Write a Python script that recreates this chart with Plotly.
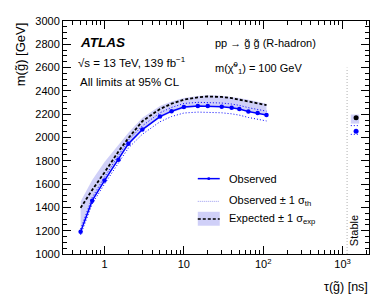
import plotly.graph_objects as go

# ---------------- data ----------------
tau = [0.5, 0.7, 1, 1.5, 2, 3, 5, 7, 10, 15, 20, 30, 40, 50, 65, 85, 110]
observed = [1190, 1458, 1630, 1809, 1947, 2068, 2180, 2226, 2261, 2270, 2270, 2264, 2255, 2244, 2224, 2211, 2194]
obs_th_up = [1215, 1485, 1660, 1840, 1978, 2100, 2212, 2258, 2292, 2302, 2302, 2296, 2287, 2276, 2256, 2243, 2226]
obs_th_dn = [1165, 1430, 1600, 1775, 1910, 2028, 2135, 2180, 2210, 2218, 2218, 2212, 2203, 2192, 2172, 2158, 2142]
expected = [1396, 1550, 1700, 1880, 1995, 2140, 2245, 2290, 2325, 2345, 2352, 2348, 2338, 2325, 2310, 2295, 2278]
exp_up = [1450, 1635, 1790, 1935, 2040, 2170, 2270, 2310, 2340, 2357, 2362, 2358, 2350, 2338, 2323, 2307, 2290]
exp_dn = [1220, 1460, 1640, 1800, 1930, 2060, 2170, 2215, 2250, 2265, 2268, 2265, 2257, 2247, 2230, 2215, 2198]

stable_tau = [1480]
stable_span = [1270, 1620]
stable_obs = [2054]
stable_obs_up = [2102]
stable_obs_dn = [2027]
stable_exp = [2169]
stable_exp_up = [2197]
stable_exp_dn = [2119]
stable_line_tau = 1140

y_ticks = list(range(1000, 3001, 200))
x_tickvals = [1, 10, 100, 1000]
x_ticktext = ["1", "10", "10<sup>2</sup>", "10<sup>3</sup>"]
x_minor = [m * 10 ** e for e in range(-1, 4) for m in range(2, 10)]
x_minor = [v for v in x_minor if 0.3 <= v <= 2100]

BLUE = "#0000ff"
BAND = "rgba(150,150,240,0.45)"
FONT = "Liberation Sans, Arial, sans-serif"

# ---------------- geometry (window pixels) ----------------
# the page body has an 8px default margin, so the figure is drawn offset by 8px
OFF = 8
WIN_W, WIN_H = 390, 303
W, H = WIN_W - 2 * OFF, WIN_H - 2 * OFF
L, R, T, B = 63, 369.5, 15, 254          # plot area in window pixels


def px(x):
    return (x - L) / (R - L)


def py(y):
    return (B - y) / (B - T)


fig = go.Figure()

# expected band
fig.add_trace(go.Scatter(x=tau, y=exp_up, mode="lines", line=dict(width=0),
                         hoverinfo="skip", showlegend=False))
fig.add_trace(go.Scatter(x=tau, y=exp_dn, mode="lines", line=dict(width=0),
                         fill="tonexty", fillcolor=BAND, showlegend=False))
# observed +- theory
fig.add_trace(go.Scatter(x=tau, y=obs_th_up, mode="lines",
                         line=dict(color=BLUE, width=1, dash="1px,2px"), showlegend=False))
fig.add_trace(go.Scatter(x=tau, y=obs_th_dn, mode="lines",
                         line=dict(color=BLUE, width=1, dash="1px,2px"), showlegend=False))
# expected
fig.add_trace(go.Scatter(x=tau, y=expected, mode="lines",
                         line=dict(color="black", width=1.8, dash="3px,2px"), showlegend=False))
# observed
fig.add_trace(go.Scatter(x=tau, y=observed, mode="lines+markers",
                         line=dict(color=BLUE, width=1.5),
                         marker=dict(color=BLUE, size=4.5), showlegend=False))

# stable points
fig.add_trace(go.Scatter(x=stable_span + stable_span[::-1],
                         y=[stable_exp_up[0]] * 2 + [stable_exp_dn[0]] * 2,
                         mode="lines", line=dict(width=0), fill="toself",
                         fillcolor=BAND, showlegend=False))
for yv in (stable_obs_up, stable_obs_dn):
    fig.add_trace(go.Scatter(x=stable_span, y=yv * 2, mode="lines",
                             line=dict(color=BLUE, width=1, dash="1px,2px"), showlegend=False))
fig.add_trace(go.Scatter(x=stable_tau, y=stable_exp, mode="markers",
                         marker=dict(color="black", size=5), showlegend=False))
fig.add_trace(go.Scatter(x=stable_tau, y=stable_obs, mode="markers",
                         marker=dict(color=BLUE, size=5), showlegend=False))

# vertical dotted separator for "Stable"
fig.add_shape(type="line", xref="x", yref="y", x0=stable_line_tau, x1=stable_line_tau,
              y0=1000, y1=2600, line=dict(color="#b0b0b0", width=1, dash="1px,2px"))

# ---------------- legend (manual) ----------------
lx0, lx1 = px(198), px(220)
fig.add_shape(type="line", xref="paper", yref="paper", x0=lx0, x1=lx1,
              y0=py(176.7), y1=py(176.7), line=dict(color=BLUE, width=1.5))
fig.add_shape(type="circle", xref="paper", yref="paper",
              x0=px(207.5), x1=px(210.5), y0=py(178.2), y1=py(175.2),
              fillcolor=BLUE, line=dict(color=BLUE, width=0))
fig.add_shape(type="line", xref="paper", yref="paper", x0=lx0, x1=lx1,
              y0=py(200), y1=py(200), line=dict(color="#9a9af0", width=1, dash="1px,1px"))
fig.add_shape(type="rect", xref="paper", yref="paper", x0=lx0, x1=lx1,
              y0=py(225), y1=py(210.7), fillcolor=BAND, line=dict(width=0))
fig.add_shape(type="line", xref="paper", yref="paper", x0=lx0, x1=lx1,
              y0=py(218), y1=py(218), line=dict(color="black", width=1.5, dash="3px,2px"))

annots = [
    dict(x=px(78), y=py(37), text="<b><i>ATLAS</i></b>", size=13.5, xanchor="left"),
    dict(x=px(76), y=py(57), text="√s = 13 TeV, 139 fb<sup>−1</sup>", size=11.5, xanchor="left"),
    dict(x=px(78), y=py(78), text="All limits at 95% CL", size=11.5, xanchor="left"),
    dict(x=px(213), y=py(38), text="pp → g̃ g̃ (R-hadron)", size=11, xanchor="left"),
    dict(x=px(213), y=py(63), text="m(χ̃<sup>0</sup><sub>1</sub>) = 100 GeV", size=11, xanchor="left"),
    dict(x=px(227), y=py(176.7), text="Observed", size=11, xanchor="left"),
    dict(x=px(227), y=py(200), text="Observed ± 1 σ<sub>th</sub>", size=11, xanchor="left"),
    dict(x=px(227), y=py(218), text="Expected ± 1 σ<sub>exp</sub>", size=11, xanchor="left"),
    dict(x=px(371), y=py(288), text="τ(g̃) [ns]", size=12.5, xanchor="right"),
]
for a in annots:
    fig.add_annotation(x=a["x"], y=a["y"], xref="paper", yref="paper", text=a["text"],
                       showarrow=False, xanchor=a["xanchor"], yanchor="middle",
                       font=dict(family=FONT, size=a["size"], color="black"))

fig.add_annotation(x=px(20), y=py(49), xref="paper", yref="paper", text="m(g̃) [GeV]",
                   textangle=-90, showarrow=False, xanchor="center", yanchor="middle",
                   font=dict(family=FONT, size=13, color="black"))
fig.add_annotation(x=px(354), y=py(230), xref="paper", yref="paper", text="Stable",
                   textangle=-90, showarrow=False, xanchor="center", yanchor="middle",
                   font=dict(family=FONT, size=11, color="black"))

fig.update_xaxes(type="log", range=[-0.523, 3.333], tickvals=x_tickvals, ticktext=x_ticktext,
                 ticks="inside", ticklen=8, tickwidth=1, tickcolor="black",
                 showline=True, linecolor="black", linewidth=1, mirror="allticks",
                 showgrid=False, zeroline=False,
                 minor=dict(tickvals=x_minor, ticks="inside", ticklen=4, tickcolor="black",
                            showgrid=False),
                 tickfont=dict(family=FONT, size=11, color="black"))
fig.update_yaxes(range=[1000, 3000], tickvals=y_ticks,
                 ticks="inside", ticklen=8, tickwidth=1, tickcolor="black",
                 showline=True, linecolor="black", linewidth=1, mirror="allticks",
                 showgrid=False, zeroline=False,
                 minor=dict(dtick=50, ticks="inside", ticklen=4, tickcolor="black",
                            showgrid=False),
                 tickfont=dict(family=FONT, size=11, color="black"))

fig.update_layout(width=W, height=H,
                  margin=dict(l=L - OFF, r=(W + OFF) - R, t=T - OFF, b=(H + OFF) - B),
                  plot_bgcolor="white", paper_bgcolor="white",
                  font=dict(family=FONT, color="black"), showlegend=False)

fig.write_html("out.html")
